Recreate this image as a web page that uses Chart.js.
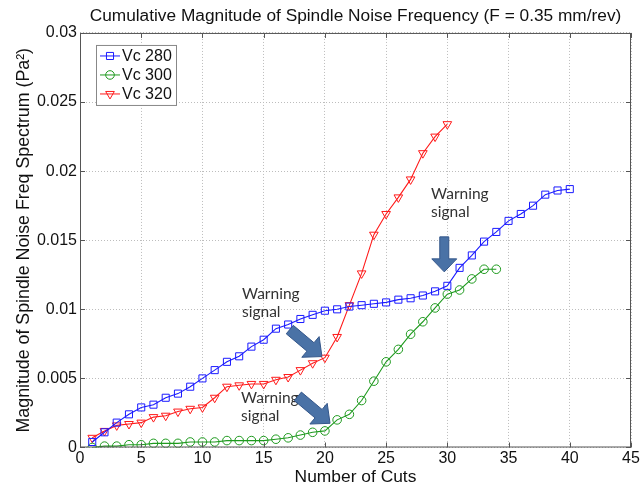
<!DOCTYPE html>
<html lang="en">
  <head>
    <meta charset="UTF-8">
    <title>Spindle noise</title>
    <script src="https://cdn.jsdelivr.net/npm/chart.js"></script>
    <style>
      body{margin: 0; background: #fff;}
      #wrap{width: 642px; height: 490px;}
    </style>
  </head>
  <body>
    <div id="wrap">
      <canvas id="myChart" width="642" height="490"></canvas>
    </div>
    <script>
      // data
      const cuts = [1, 2, 3, 4, 5, 6, 7, 8, 9, 10, 11, 12, 13, 14, 15, 16, 17, 18, 19, 20,
                    21, 22, 23, 24, 25, 26, 27, 28, 29, 30, 31, 32, 33, 34, 35, 36, 37, 38, 39, 40];
      const vc280 = [0.0004, 0.0011, 0.0018, 0.0024, 0.0029, 0.0031, 0.0036, 0.0039, 0.0044, 0.0050,
                     0.0056, 0.0062, 0.0066, 0.0073, 0.0078, 0.0086, 0.0089, 0.0093, 0.0096, 0.0099,
                     0.0100, 0.0102, 0.0103, 0.0104, 0.0105, 0.0107, 0.0108, 0.0110, 0.0113, 0.0117,
                     0.0130, 0.0139, 0.0149, 0.0156, 0.0164, 0.0169, 0.0175, 0.0183, 0.0186, 0.0187];
      const vc300 = [0.0000, 0.0001, 0.0001, 0.0002, 0.0002, 0.0003, 0.0003, 0.0003, 0.0004, 0.0004,
                     0.0004, 0.0005, 0.0005, 0.0005, 0.0005, 0.0006, 0.0007, 0.0009, 0.0011, 0.0012,
                     0.0020, 0.0024, 0.0034, 0.0048, 0.0062, 0.0071, 0.0082, 0.0091, 0.0101, 0.0111,
                     0.0114, 0.0122, 0.0129, 0.0129];
      const vc320 = [0.0007, 0.0012, 0.0016, 0.0017, 0.0018, 0.0022, 0.0023, 0.0026, 0.0028, 0.0029,
                     0.0036, 0.0044, 0.0045, 0.0046, 0.0046, 0.0049, 0.0051, 0.0056, 0.0061, 0.0065,
                     0.0080, 0.0103, 0.0126, 0.0154, 0.0169, 0.0181, 0.0194, 0.0213, 0.0225, 0.0234];
      const seriesNames = ['Vc 280', 'Vc 300', 'Vc 320'];
      const xTickLabels = ['0', '5', '10', '15', '20', '25', '30', '35', '40', '45'];
      const yTickLabels = ['0', '0.005', '0.01', '0.015', '0.02', '0.025', '0.03'];

      // "Warning signal" notes (data coords), arrows point at (ax, ay)
      const notes = [
        {x: 28.67, y: 0.01797, ax: 29.75, ay: 0.01271, angle: 90, len: 35, sw: 9, hw: 25, hl: 13},
        {x: 13.23, y: 0.01074, ax: 19.76, ay: 0.00658, angle: 40, len: 42, sw: 11, hw: 27, hl: 15},
        {x: 13.15, y: 0.00320, ax: 20.42, ay: 0.00175, angle: 40, len: 42, sw: 11, hw: 27, hl: 15}
      ];

      function toXY(vals){
        return vals.map((v, i) => ({x: cuts[i], y: v}));
      }

      const boxColor = '#555';

      // box + inward ticks, legend and the annotations (matlab look)
      const extras = {
        id: 'extras',
        afterDatasetsDraw(chart){
          const c = chart.ctx;
          const a = chart.chartArea;
          const sx = chart.scales.x, sy = chart.scales.y;

          // notes
          notes.forEach(n => {
            c.save();
            c.font = '15.5px Lato, "Open Sans", sans-serif';
            c.fillStyle = '#333';
            c.textBaseline = 'alphabetic';
            const tx = sx.getPixelForValue(n.x), ty = sy.getPixelForValue(n.y);
            c.fillText('Warning', tx, ty);
            c.fillText('signal', tx, ty + 18);

            const px = sx.getPixelForValue(n.ax), py = sy.getPixelForValue(n.ay);
            const ang = n.angle * Math.PI / 180;
            const pts = [[0, 0], [-n.hl, n.hw / 2], [-n.hl, n.sw / 2], [-n.len, n.sw / 2],
                         [-n.len, -n.sw / 2], [-n.hl, -n.sw / 2], [-n.hl, -n.hw / 2]];
            c.beginPath();
            pts.forEach((p, i) => {
              const rx = px + p[0] * Math.cos(ang) - p[1] * Math.sin(ang);
              const ry = py + p[0] * Math.sin(ang) + p[1] * Math.cos(ang);
              if(i == 0) c.moveTo(rx, ry); else c.lineTo(rx, ry);
            });
            c.closePath();
            c.fillStyle = '#4a72a6';
            c.fill();
            c.strokeStyle = '#34568a';
            c.lineWidth = 1;
            c.stroke();
            c.restore();
          });

          // box and inner ticks
          c.save();
          c.strokeStyle = boxColor;
          c.lineWidth = 1;
          c.strokeRect(a.left + 0.5, a.top + 0.5, a.right - a.left - 1, a.bottom - a.top - 1);
          c.beginPath();
          sx.ticks.forEach(t => {
            const x = Math.round(sx.getPixelForValue(t.value)) + 0.5;
            c.moveTo(x, a.bottom); c.lineTo(x, a.bottom - 5);
            c.moveTo(x, a.top); c.lineTo(x, a.top + 5);
          });
          sy.ticks.forEach(t => {
            const y = Math.round(sy.getPixelForValue(t.value)) + 0.5;
            c.moveTo(a.left, y); c.lineTo(a.left + 5, y);
            c.moveTo(a.right, y); c.lineTo(a.right - 5, y);
          });
          c.stroke();

          // legend
          const lx = a.left + 16, ly = a.top + 12;
          c.fillStyle = '#fff';
          c.fillRect(lx, ly, 80, 60);
          c.strokeStyle = '#888';
          c.strokeRect(lx + 0.5, ly + 0.5, 80, 60);
          c.font = '16px "Liberation Sans", Arial, sans-serif';
          c.textBaseline = 'middle';
          chart.data.datasets.forEach((ds, i) => {
            const y = ly + 11 + i * 19;
            c.strokeStyle = ds.borderColor;
            c.lineWidth = 1;
            c.beginPath();
            c.moveTo(lx + 4, y); c.lineTo(lx + 24, y);
            c.stroke();
            c.fillStyle = 'rgba(0,0,0,0)';
            Chart.helpers.drawPoint(c, {pointStyle: ds.pointStyle, rotation: ds.pointRotation || 0,
              radius: ds.pointRadius, borderWidth: 1}, lx + 14, y);
            c.fillStyle = '#111';
            c.fillText(ds.label, lx + 26, y + 1);
          });
          c.restore();
        }
      };

      Chart.defaults.font.family = '"Liberation Sans", Arial, sans-serif';
      Chart.defaults.color = '#111';

      const ctx = document.getElementById('myChart');
      new Chart(ctx, {
        type: 'line',
        data: {
          datasets: [{
            label: seriesNames[0],
            data: toXY(vc280),
            borderColor: '#1a1aff',
            pointStyle: 'rect',
            pointRadius: 5
          }, {
            label: seriesNames[1],
            data: toXY(vc300),
            borderColor: '#1f9a1f',
            pointStyle: 'circle',
            pointRadius: 4.3
          }, {
            label: seriesNames[2],
            data: toXY(vc320),
            borderColor: '#ff1a1a',
            pointStyle: 'triangle',
            pointRotation: 180,
            pointRadius: 5
          }]
        },
        options: {
          responsive: false,
          animation: false,
          events: [],
          datasets: {
            line: {
              borderWidth: 1.1,
              pointBorderWidth: 1,
              pointBackgroundColor: 'rgba(0,0,0,0)',
              tension: 0
            }
          },
          layout: {padding: {left: 0, right: 11, top: 0, bottom: 0}},
          plugins: {
            legend: {display: false},
            tooltip: {enabled: false},
            title: {
              display: true,
              fullSize: false,
              text: 'Cumulative Magnitude of Spindle Noise Frequency (F = 0.35 mm/rev)',
              font: {size: 17.3, weight: 'normal'},
              color: '#111',
              padding: {top: 5.5, bottom: 6.7}
            }
          },
          scales: {
            x: {
              type: 'linear',
              min: 0, max: 45,
              ticks: {stepSize: 5, padding: 1, font: {size: 16},
                      callback: (v, i) => xTickLabels[i]},
              grid: {color: '#bdbdbd', drawTicks: false},
              border: {display: false, dash: [1, 2]},
              title: {display: true, text: 'Number of Cuts', font: {size: 17.4},
                      padding: {top: 0, bottom: 2.3}},
              afterFit: s => { s.height = 42.5; }
            },
            y: {
              min: 0, max: 0.03,
              ticks: {stepSize: 0.005, padding: 3, font: {size: 16},
                      callback: (v, i) => yTickLabels[i]},
              grid: {color: '#bdbdbd', drawTicks: false},
              border: {display: false, dash: [1, 2]},
              title: {display: true, text: 'Magnitude of Spindle Noise Freq Spectrum (Pa²)', font: {size: 17.8},
                      padding: {top: 13, bottom: 0}},
              afterFit: s => { s.width = 80; }
            }
          }
        },
        plugins: [extras]
      });
    </script>
  </body>
</html>
